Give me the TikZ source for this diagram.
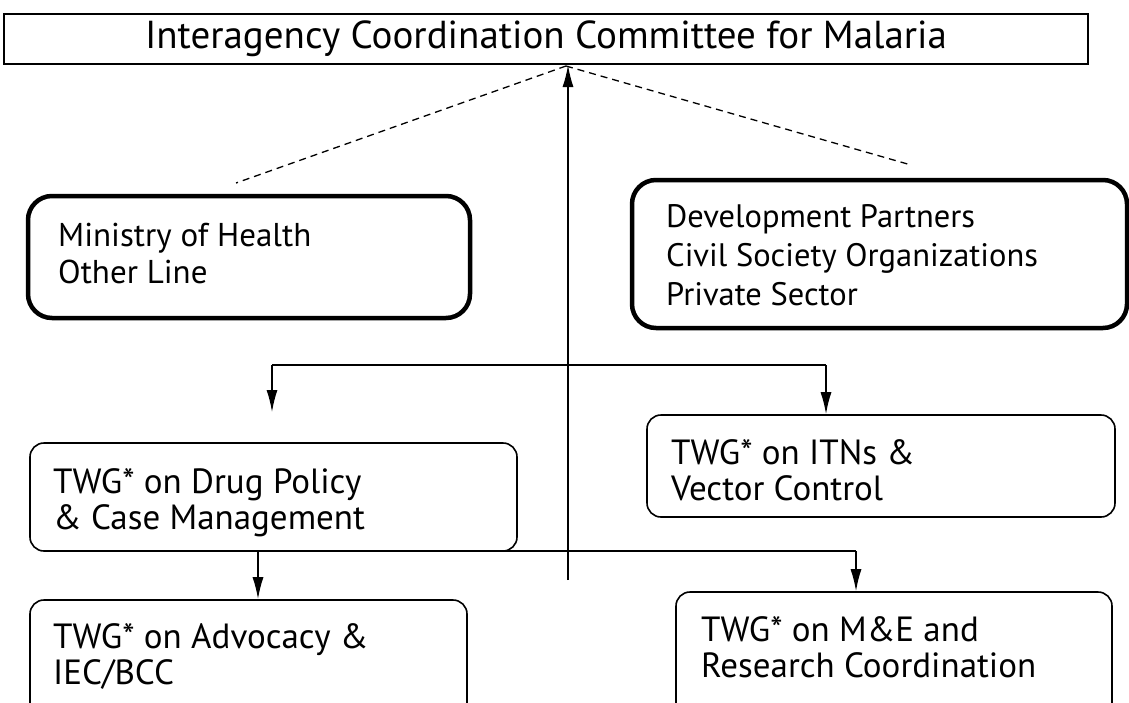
\documentclass[tikz,border=0pt]{standalone}
\usepackage{fontspec}
\setmainfont{PT Sans}
\usetikzlibrary{arrows.meta,calc}
\begin{document}
\begin{tikzpicture}[x=1pt,y=-1pt,
  thinbox/.style={draw,line width=1.6pt,rounded corners=14pt,inner sep=0pt},
  thickbox/.style={draw,line width=4.5pt,rounded corners=24pt,inner sep=0pt},
  lbl/.style={anchor=base west,align=left,inner sep=0pt},
  grouptxt/.style={lbl,font=\fontsize{33}{37}\selectfont},
  twgtxt/.style={lbl,font=\fontsize{35}{36}\selectfont},
  conn/.style={line width=1.5pt},
  tip/.style={-{Latex[length=22pt,width=11pt]}},
  dashline/.style={line width=1.3pt,dash pattern=on 7pt off 5pt}]
\useasboundingbox (0,0) rectangle (1129,702);
\clip (0,0) rectangle (1129,702);

% committee at the top
\node[draw,line width=2pt,minimum width=1084pt,minimum height=50pt,inner sep=0pt,
      font=\fontsize{39}{40}\selectfont] (icc) at (546,39) {Interagency Coordination Committee for Malaria};

% member groups (text nodes are anchored at the baseline of their last line)
\node[thickbox,minimum width=442pt,minimum height=122pt] (moh) at (249,257) {};
\node[grouptxt] (moht) at (58,283) {Ministry of Health\\Other Line};
\node[thickbox,minimum width=495pt,minimum height=148pt] (dp) at (879.5,254) {};
\node[grouptxt,font=\fontsize{32.5}{39}\selectfont] (dpt) at (666,305) {Development Partners\\Civil Society Organizations\\Private Sector};

% technical working groups
\node[thinbox,minimum width=468pt,minimum height=102pt] (itn) at (881,466) {};
\node[twgtxt] (itnt) at (671,500) {TWG* on ITNs \&\\Vector Control};
\node[thinbox,minimum width=487pt,minimum height=108pt] (drug) at (273.5,497) {};
\node[twgtxt] (drugt) at (53,529) {TWG* on Drug Policy\\\& Case Management};
\node[thinbox,minimum width=437pt,minimum height=120pt] (adv) at (248.5,660) {};
\node[twgtxt] (advt) at (53,684) {TWG* on Advocacy \&\\IEC/BCC};
\node[thinbox,minimum width=436pt,minimum height=128pt] (me) at (894,656) {};
\node[twgtxt] (met) at (701,677) {TWG* on M\&E and\\Research Coordination};

% connectors
\coordinate (stem) at (568,580);
\coordinate (apex) at (566,66);
\coordinate (mohend) at (236,183);
\coordinate (dpend) at (911,165);
\coordinate (bl) at (272,365);
\coordinate (br) at (826,365);
\coordinate (drugtip) at (272,412);
\coordinate (ll) at (258,551);
\coordinate (lr) at (856,551);

\draw[conn,tip] (stem) -- (stem |- icc.south);
\draw[dashline] (apex) -- (mohend);
\draw[dashline] (apex) -- (dpend);
\draw[conn] (bl) -- (br);
\draw[conn,tip] (bl) -- (drugtip);
\draw[conn,tip] (br) -- (br |- itn.north);
\draw[conn] (ll) -- (lr);
\draw[conn,tip] (ll) -- (ll |- adv.north);
\draw[conn,tip] (lr) -- (lr |- me.north);
\end{tikzpicture}
\end{document}
